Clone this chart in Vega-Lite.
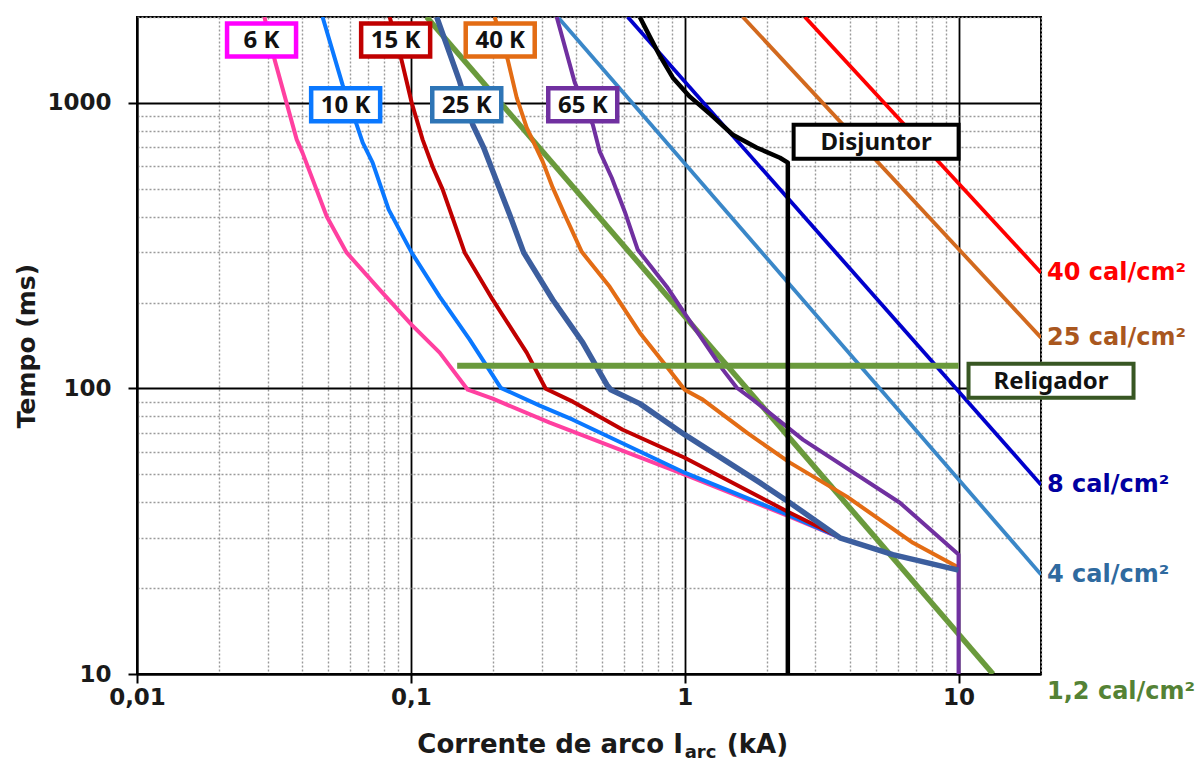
{
 "$schema": "https://vega.github.io/schema/vega-lite/v6.json",
 "width": 904,
 "height": 657,
 "autosize": "none",
 "padding": {"left": 137, "top": 17, "right": 155, "bottom": 91},
 "background": "white",
 "config": {"view": {"stroke": "#000000", "strokeWidth": 2}, "font": "DejaVu Sans"},
 "datasets": {
  "curves": [
   {"s": "40 cal/cm²", "k": 0, "I": 2.747, "t": 2000}, {"s": "40 cal/cm²", "k": 1, "I": 20, "t": 254.4},
   {"s": "25 cal/cm²", "k": 0, "I": 1.63, "t": 2000}, {"s": "25 cal/cm²", "k": 1, "I": 20, "t": 150.7},
   {"s": "8 cal/cm²", "k": 0, "I": 0.6193, "t": 2000}, {"s": "8 cal/cm²", "k": 1, "I": 20, "t": 46.0},
   {"s": "4 cal/cm²", "k": 0, "I": 0.344, "t": 2000}, {"s": "4 cal/cm²", "k": 1, "I": 20, "t": 22.3},
   {"s": "1,2 cal/cm²", "k": 0, "I": 0.1142, "t": 2000}, {"s": "1,2 cal/cm²", "k": 1, "I": 13.36, "t": 10},
   {"s": "6 K", "k": 0, "I": 0.0292, "t": 2000}, {"s": "6 K", "k": 1, "I": 0.0318, "t": 1418},
   {"s": "6 K", "k": 2, "I": 0.0383, "t": 744}, {"s": "6 K", "k": 3, "I": 0.0402, "t": 670},
   {"s": "6 K", "k": 4, "I": 0.0493, "t": 400}, {"s": "6 K", "k": 5, "I": 0.0583, "t": 299},
   {"s": "6 K", "k": 6, "I": 0.0769, "t": 222}, {"s": "6 K", "k": 7, "I": 0.1007, "t": 167},
   {"s": "6 K", "k": 8, "I": 0.1274, "t": 133.5}, {"s": "6 K", "k": 9, "I": 0.1613, "t": 99},
   {"s": "6 K", "k": 10, "I": 0.199, "t": 92.1}, {"s": "6 K", "k": 11, "I": 0.3214, "t": 75.9},
   {"s": "6 K", "k": 12, "I": 1.0, "t": 49.9}, {"s": "6 K", "k": 13, "I": 2.38, "t": 35.8},
   {"s": "6 K", "k": 14, "I": 3.69, "t": 30.0},
   {"s": "10 K", "k": 0, "I": 0.0476, "t": 2000}, {"s": "10 K", "k": 1, "I": 0.0563, "t": 1159},
   {"s": "10 K", "k": 2, "I": 0.0634, "t": 840}, {"s": "10 K", "k": 3, "I": 0.0667, "t": 726},
   {"s": "10 K", "k": 4, "I": 0.0725, "t": 618}, {"s": "10 K", "k": 5, "I": 0.083, "t": 423},
   {"s": "10 K", "k": 6, "I": 0.1007, "t": 299}, {"s": "10 K", "k": 7, "I": 0.1274, "t": 209.7},
   {"s": "10 K", "k": 8, "I": 0.164, "t": 148.2}, {"s": "10 K", "k": 9, "I": 0.213, "t": 100.5},
   {"s": "10 K", "k": 10, "I": 0.2955, "t": 87.05}, {"s": "10 K", "k": 11, "I": 0.3903, "t": 77.74},
   {"s": "10 K", "k": 12, "I": 1.0, "t": 50.7}, {"s": "10 K", "k": 13, "I": 2.38, "t": 36.14},
   {"s": "10 K", "k": 14, "I": 3.69, "t": 30.02},
   {"s": "15 K", "k": 0, "I": 0.0837, "t": 2000}, {"s": "15 K", "k": 1, "I": 0.0926, "t": 1406},
   {"s": "15 K", "k": 2, "I": 0.1007, "t": 1002}, {"s": "15 K", "k": 3, "I": 0.1104, "t": 744},
   {"s": "15 K", "k": 4, "I": 0.1201, "t": 598}, {"s": "15 K", "k": 5, "I": 0.1307, "t": 497},
   {"s": "15 K", "k": 6, "I": 0.1573, "t": 299}, {"s": "15 K", "k": 7, "I": 0.199, "t": 204.6},
   {"s": "15 K", "k": 8, "I": 0.2649, "t": 133.5}, {"s": "15 K", "k": 9, "I": 0.3108, "t": 99.8},
   {"s": "15 K", "k": 10, "I": 0.3903, "t": 89.9}, {"s": "15 K", "k": 11, "I": 0.594, "t": 71.7},
   {"s": "15 K", "k": 12, "I": 1.0, "t": 57.2}, {"s": "15 K", "k": 13, "I": 2.38, "t": 37.0},
   {"s": "15 K", "k": 14, "I": 3.63, "t": 30.3},
   {"s": "40 K", "k": 0, "I": 0.2024, "t": 2000}, {"s": "40 K", "k": 1, "I": 0.2258, "t": 1418},
   {"s": "40 K", "k": 2, "I": 0.2435, "t": 1044}, {"s": "40 K", "k": 3, "I": 0.2649, "t": 819},
   {"s": "40 K", "k": 4, "I": 0.3031, "t": 623}, {"s": "40 K", "k": 5, "I": 0.3297, "t": 505},
   {"s": "40 K", "k": 6, "I": 0.3647, "t": 406}, {"s": "40 K", "k": 7, "I": 0.4207, "t": 301},
   {"s": "40 K", "k": 8, "I": 0.5323, "t": 227}, {"s": "40 K", "k": 9, "I": 0.6855, "t": 156.8},
   {"s": "40 K", "k": 10, "I": 0.8603, "t": 119.2}, {"s": "40 K", "k": 11, "I": 1.0, "t": 99.0},
   {"s": "40 K", "k": 12, "I": 1.164, "t": 91.4}, {"s": "40 K", "k": 13, "I": 1.686, "t": 70.0},
   {"s": "40 K", "k": 14, "I": 2.421, "t": 55.0}, {"s": "40 K", "k": 15, "I": 3.911, "t": 41.8},
   {"s": "40 K", "k": 16, "I": 6.813, "t": 28.8}, {"s": "40 K", "k": 17, "I": 10, "t": 23.6},
   {"s": "65 K", "k": 0, "I": 0.3409, "t": 2000}, {"s": "65 K", "k": 1, "I": 0.3968, "t": 1178},
   {"s": "65 K", "k": 2, "I": 0.4616, "t": 840}, {"s": "65 K", "k": 3, "I": 0.4896, "t": 675},
   {"s": "65 K", "k": 4, "I": 0.5415, "t": 547}, {"s": "65 K", "k": 5, "I": 0.6042, "t": 416},
   {"s": "65 K", "k": 6, "I": 0.674, "t": 306}, {"s": "65 K", "k": 7, "I": 0.8603, "t": 227.3},
   {"s": "65 K", "k": 8, "I": 1.018, "t": 178.4}, {"s": "65 K", "k": 9, "I": 1.378, "t": 116.4},
   {"s": "65 K", "k": 10, "I": 1.55, "t": 100.6}, {"s": "65 K", "k": 11, "I": 1.774, "t": 91.4},
   {"s": "65 K", "k": 12, "I": 2.701, "t": 66.2}, {"s": "65 K", "k": 13, "I": 6.107, "t": 39.8},
   {"s": "65 K", "k": 14, "I": 10, "t": 26.2}, {"s": "65 K", "k": 15, "I": 10, "t": 10},
   {"s": "25 K", "k": 0, "I": 0.1243, "t": 2000}, {"s": "25 K", "k": 1, "I": 0.1508, "t": 1187},
   {"s": "25 K", "k": 2, "I": 0.1682, "t": 840}, {"s": "25 K", "k": 3, "I": 0.1845, "t": 697},
   {"s": "25 K", "k": 4, "I": 0.2296, "t": 406}, {"s": "25 K", "k": 5, "I": 0.2583, "t": 299},
   {"s": "25 K", "k": 6, "I": 0.3297, "t": 204.6}, {"s": "25 K", "k": 7, "I": 0.4243, "t": 144.7},
   {"s": "25 K", "k": 8, "I": 0.5193, "t": 103.1}, {"s": "25 K", "k": 9, "I": 0.537, "t": 99.0},
   {"s": "25 K", "k": 10, "I": 0.6855, "t": 88.5}, {"s": "25 K", "k": 11, "I": 1.0, "t": 68.9},
   {"s": "25 K", "k": 12, "I": 1.881, "t": 46.8}, {"s": "25 K", "k": 13, "I": 2.421, "t": 39.8},
   {"s": "25 K", "k": 14, "I": 3.687, "t": 30.0}, {"s": "25 K", "k": 15, "I": 5.757, "t": 26.2},
   {"s": "25 K", "k": 16, "I": 10, "t": 23.1},
   {"s": "Religador", "k": 0, "I": 0.1476, "t": 120}, {"s": "Religador", "k": 1, "I": 10, "t": 120},
   {"s": "Disjuntor", "k": 0, "I": 0.6855, "t": 2000}, {"s": "Disjuntor", "k": 1, "I": 0.7456, "t": 1707},
   {"s": "Disjuntor", "k": 2, "I": 0.811, "t": 1464}, {"s": "Disjuntor", "k": 3, "I": 0.9048, "t": 1226},
   {"s": "Disjuntor", "k": 4, "I": 1.044, "t": 1052}, {"s": "Disjuntor", "k": 5, "I": 1.256, "t": 903},
   {"s": "Disjuntor", "k": 6, "I": 1.498, "t": 774}, {"s": "Disjuntor", "k": 7, "I": 1.834, "t": 697},
   {"s": "Disjuntor", "k": 8, "I": 2.226, "t": 643}, {"s": "Disjuntor", "k": 9, "I": 2.38, "t": 618},
   {"s": "Disjuntor", "k": 10, "I": 2.38, "t": 10}
  ],
  "kboxes": [
   {"s": "6 K", "I": 0.0285, "t": 1660}, {"s": "15 K", "I": 0.088, "t": 1660},
   {"s": "40 K", "I": 0.212, "t": 1660}, {"s": "10 K", "I": 0.0578, "t": 986},
   {"s": "25 K", "I": 0.16, "t": 986}, {"s": "65 K", "I": 0.4243, "t": 986}
  ],
  "bigboxes": [
   {"s": "Disjuntor", "I": 5.0, "t": 732}, {"s": "Religador", "I": 21.76, "t": 106.5}
  ],
  "rightlabels": [
   {"s": "40 cal/cm²", "I": 21.04, "t": 254.4}, {"s": "25 cal/cm²", "I": 21.04, "t": 150.7},
   {"s": "8 cal/cm²", "I": 21.04, "t": 46.0}, {"s": "4 cal/cm²", "I": 21.04, "t": 22.3},
   {"s": "1,2 cal/cm²", "I": 21.04, "t": 8.67}
  ]
 },
 "layer": [
  {
   "data": {"name": "curves"},
   "transform": [{"filter": {"field": "s", "oneOf": ["40 cal/cm²", "25 cal/cm²", "8 cal/cm²", "4 cal/cm²"]}}],
   "mark": {"type": "line", "clip": true, "strokeJoin": "round", "strokeWidth": 3.8},
   "encoding": {
    "x": {"field": "I", "type": "quantitative",
     "scale": {"type": "log", "domain": [0.01, 20], "nice": false},
     "axis": {
      "values": [0.01,0.02,0.03,0.04,0.05,0.06,0.07,0.08,0.09,0.1,0.2,0.3,0.4,0.5,0.6,0.7,0.8,0.9,1,2,3,4,5,6,7,8,9,10,20],
      "title": null, "grid": true,
      "gridColor": {"condition": {"test": "abs(log(datum.value)/LN10 - round(log(datum.value)/LN10)) < 0.01", "value": "#000000"}, "value": "#9a9a9a"},
      "gridDash": {"condition": {"test": "abs(log(datum.value)/LN10 - round(log(datum.value)/LN10)) < 0.01", "value": []}, "value": [2, 2]},
      "gridWidth": {"condition": {"test": "abs(log(datum.value)/LN10 - round(log(datum.value)/LN10)) < 0.01", "value": 1.8}, "value": 1.4},
      "tickOpacity": {"condition": {"test": "abs(log(datum.value)/LN10 - round(log(datum.value)/LN10)) < 0.01", "value": 1}, "value": 0},
      "tickSize": 9, "tickWidth": 2, "tickColor": "#000000",
      "domainColor": "#000000", "domainWidth": 2,
      "labelExpr": "abs(log(datum.value)/LN10 - round(log(datum.value)/LN10)) < 0.01 ? replace(format(datum.value, '~g'), '.', ',') : ''",
      "labelFont": "DejaVu Sans", "labelFontWeight": "bold", "labelFontSize": 23, "labelColor": "#1a1a1a",
      "labelPadding": 3, "labelFlush": false, "labelOverlap": false, "labelBound": false
     }
    },
    "y": {"field": "t", "type": "quantitative",
     "scale": {"type": "log", "domain": [10, 2000], "nice": false},
     "axis": {
      "values": [10,20,30,40,50,60,70,80,90,100,200,300,400,500,600,700,800,900,1000,2000],
      "title": "Tempo (ms)", "titleFont": "DejaVu Sans", "titleFontSize": 25, "titleFontWeight": "bold", "titleColor": "#1a1a1a", "titlePadding": 7,
      "grid": true,
      "gridColor": {"condition": {"test": "abs(log(datum.value)/LN10 - round(log(datum.value)/LN10)) < 0.01", "value": "#000000"}, "value": "#9a9a9a"},
      "gridDash": {"condition": {"test": "abs(log(datum.value)/LN10 - round(log(datum.value)/LN10)) < 0.01", "value": []}, "value": [2, 2]},
      "gridWidth": {"condition": {"test": "abs(log(datum.value)/LN10 - round(log(datum.value)/LN10)) < 0.01", "value": 1.8}, "value": 1.4},
      "tickOpacity": {"condition": {"test": "abs(log(datum.value)/LN10 - round(log(datum.value)/LN10)) < 0.01", "value": 1}, "value": 0},
      "tickSize": 9, "tickWidth": 2, "tickColor": "#000000",
      "domainColor": "#000000", "domainWidth": 2,
      "labelExpr": "abs(log(datum.value)/LN10 - round(log(datum.value)/LN10)) < 0.01 ? format(datum.value, 'd') : ''",
      "labelFont": "DejaVu Sans", "labelFontWeight": "bold", "labelFontSize": 23, "labelColor": "#1a1a1a",
      "labelPadding": 17, "labelFlush": false, "labelOverlap": false, "labelBound": false
     }
    },
    "color": {"field": "s", "type": "nominal", "legend": null,
     "scale": {"domain": ["40 cal/cm²","25 cal/cm²","8 cal/cm²","4 cal/cm²","1,2 cal/cm²","6 K","10 K","15 K","40 K","65 K","25 K","Religador","Disjuntor"],
      "range": ["#FF0000","#D2691E","#0000CC","#3A87C8","#6A9A3C","#FF40A0","#0A78FF","#C00000","#E36C14","#7030A0","#3C5E9E","#6A9A3C","#000000"]}},
    "order": {"field": "k", "type": "quantitative"}
   }
  },
  {
   "data": {"name": "curves"},
   "transform": [{"filter": {"field": "s", "equal": "1,2 cal/cm²"}}],
   "mark": {"type": "line", "clip": true, "strokeJoin": "round", "strokeWidth": 5.5},
   "encoding": {
    "x": {"field": "I", "type": "quantitative"},
    "y": {"field": "t", "type": "quantitative"},
    "color": {"field": "s", "type": "nominal", "legend": null},
    "order": {"field": "k", "type": "quantitative"}
   }
  },
  {
   "data": {"name": "curves"},
   "transform": [{"filter": {"field": "s", "oneOf": ["6 K", "10 K", "15 K", "40 K", "65 K"]}}],
   "mark": {"type": "line", "clip": true, "strokeJoin": "round", "strokeWidth": 4},
   "encoding": {
    "x": {"field": "I", "type": "quantitative"},
    "y": {"field": "t", "type": "quantitative"},
    "color": {"field": "s", "type": "nominal", "legend": null},
    "order": {"field": "k", "type": "quantitative"}
   }
  },
  {
   "data": {"name": "curves"},
   "transform": [{"filter": {"field": "s", "equal": "25 K"}}],
   "mark": {"type": "line", "clip": true, "strokeJoin": "round", "strokeWidth": 5.5},
   "encoding": {
    "x": {"field": "I", "type": "quantitative"},
    "y": {"field": "t", "type": "quantitative"},
    "color": {"field": "s", "type": "nominal", "legend": null},
    "order": {"field": "k", "type": "quantitative"}
   }
  },
  {
   "data": {"name": "curves"},
   "transform": [{"filter": {"field": "s", "equal": "Religador"}}],
   "mark": {"type": "line", "clip": true, "strokeWidth": 6},
   "encoding": {
    "x": {"field": "I", "type": "quantitative"},
    "y": {"field": "t", "type": "quantitative"},
    "color": {"field": "s", "type": "nominal", "legend": null},
    "order": {"field": "k", "type": "quantitative"}
   }
  },
  {
   "data": {"name": "curves"},
   "transform": [{"filter": {"field": "s", "equal": "Disjuntor"}}],
   "mark": {"type": "line", "clip": true, "strokeJoin": "round", "strokeWidth": 4.5},
   "encoding": {
    "x": {"field": "I", "type": "quantitative"},
    "y": {"field": "t", "type": "quantitative"},
    "color": {"field": "s", "type": "nominal", "legend": null},
    "order": {"field": "k", "type": "quantitative"}
   }
  },
  {
   "data": {"name": "kboxes"},
   "mark": {"type": "point", "shape": "M-1,-0.478H1V0.478H-1Z", "size": 4761, "filled": true, "fill": "#ffffff", "opacity": 1, "fillOpacity": 1, "strokeOpacity": 1, "strokeWidth": 4.5},
   "encoding": {
    "x": {"field": "I", "type": "quantitative"},
    "y": {"field": "t", "type": "quantitative"},
    "stroke": {"field": "s", "type": "nominal", "legend": null,
     "scale": {"domain": ["6 K","10 K","15 K","25 K","40 K","65 K","Disjuntor","Religador"],
      "range": ["#FF00FF","#0A78FF","#C00000","#2E75B6","#E36C14","#7030A0","#000000","#385723"]}}
   }
  },
  {
   "data": {"name": "bigboxes"},
   "mark": {"type": "point", "shape": "M-1,-0.206H1V0.206H-1Z", "size": 27225, "filled": true, "fill": "#ffffff", "opacity": 1, "fillOpacity": 1, "strokeOpacity": 1, "strokeWidth": 4},
   "encoding": {
    "x": {"field": "I", "type": "quantitative"},
    "y": {"field": "t", "type": "quantitative"},
    "stroke": {"field": "s", "type": "nominal", "legend": null}
   }
  },
  {
   "data": {"name": "kboxes"},
   "mark": {"type": "text", "font": "Noto Sans", "fontWeight": "bold", "fontSize": 24, "color": "#111111", "align": "center", "baseline": "middle", "dy": 1},
   "encoding": {
    "x": {"field": "I", "type": "quantitative"},
    "y": {"field": "t", "type": "quantitative"},
    "text": {"field": "s"}
   }
  },
  {
   "data": {"name": "bigboxes"},
   "mark": {"type": "text", "font": "Noto Sans", "fontWeight": "bold", "fontSize": 24, "color": "#111111", "align": "center", "baseline": "middle", "dy": 1},
   "encoding": {
    "x": {"field": "I", "type": "quantitative"},
    "y": {"field": "t", "type": "quantitative"},
    "text": {"field": "s"}
   }
  },
  {
   "data": {"name": "rightlabels"},
   "mark": {"type": "text", "font": "DejaVu Sans", "fontWeight": "bold", "fontSize": 24, "align": "left", "baseline": "middle"},
   "encoding": {
    "x": {"field": "I", "type": "quantitative"},
    "y": {"field": "t", "type": "quantitative"},
    "text": {"field": "s"},
    "fill": {"field": "s", "type": "nominal", "legend": null,
     "scale": {"domain": ["40 cal/cm²","25 cal/cm²","8 cal/cm²","4 cal/cm²","1,2 cal/cm²"],
      "range": ["#FF0000","#A9571E","#0000A0","#2F6A9F","#548235"]}}
   }
  },
  {
   "data": {"values": [{"txt": "Corrente de arco I", "I": 0.9842, "t": 5.655}]},
   "mark": {"type": "text", "font": "DejaVu Sans", "fontWeight": "bold", "fontSize": 26, "color": "#1a1a1a", "align": "right", "baseline": "middle"},
   "encoding": {"x": {"field": "I", "type": "quantitative"}, "y": {"field": "t", "type": "quantitative"}, "text": {"field": "txt"}}
  },
  {
   "data": {"values": [{"txt": "arc", "I": 1.0, "t": 5.30}]},
   "mark": {"type": "text", "font": "DejaVu Sans", "fontWeight": "bold", "fontSize": 18, "color": "#1a1a1a", "align": "left", "baseline": "middle"},
   "encoding": {"x": {"field": "I", "type": "quantitative"}, "y": {"field": "t", "type": "quantitative"}, "text": {"field": "txt"}}
  },
  {
   "data": {"values": [{"txt": "(kA)", "I": 1.425, "t": 5.655}]},
   "mark": {"type": "text", "font": "DejaVu Sans", "fontWeight": "bold", "fontSize": 26, "color": "#1a1a1a", "align": "left", "baseline": "middle"},
   "encoding": {"x": {"field": "I", "type": "quantitative"}, "y": {"field": "t", "type": "quantitative"}, "text": {"field": "txt"}}
  }
 ]
}
